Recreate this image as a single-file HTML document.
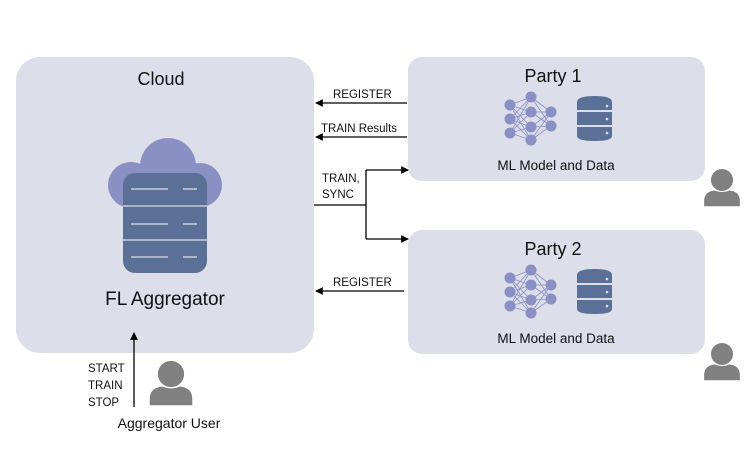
<!DOCTYPE html>
<html><head><style>body{margin:0;background:#fff}svg{display:block}text{font-family:"Liberation Sans",sans-serif}</style></head>
<body>
<svg width="747" height="467" viewBox="0 0 747 467" xmlns="http://www.w3.org/2000/svg">
<defs>
<g id="party">
  <rect x="408" y="57" width="297" height="124" rx="14" fill="#dcdee9"/>
  <g stroke="#8a8fc4" stroke-width="0.8">
    <line x1="510" y1="105" x2="531" y2="97"/><line x1="510" y1="105" x2="531" y2="112"/><line x1="510" y1="105" x2="531" y2="127"/><line x1="510" y1="105" x2="531" y2="140"/>
    <line x1="510" y1="119" x2="531" y2="97"/><line x1="510" y1="119" x2="531" y2="112"/><line x1="510" y1="119" x2="531" y2="127"/><line x1="510" y1="119" x2="531" y2="140"/>
    <line x1="510" y1="133" x2="531" y2="97"/><line x1="510" y1="133" x2="531" y2="112"/><line x1="510" y1="133" x2="531" y2="127"/><line x1="510" y1="133" x2="531" y2="140"/>
    <line x1="531" y1="97" x2="551" y2="112"/><line x1="531" y1="97" x2="551" y2="126"/>
    <line x1="531" y1="112" x2="551" y2="112"/><line x1="531" y1="112" x2="551" y2="126"/>
    <line x1="531" y1="127" x2="551" y2="112"/><line x1="531" y1="127" x2="551" y2="126"/>
    <line x1="531" y1="140" x2="551" y2="112"/><line x1="531" y1="140" x2="551" y2="126"/>
  </g>
  <g fill="#8a8fc4">
    <circle cx="510" cy="105" r="5.5"/><circle cx="510" cy="119" r="5.5"/><circle cx="510" cy="133" r="5.5"/>
    <circle cx="531" cy="97" r="5.5"/><circle cx="531" cy="112" r="5.5"/><circle cx="531" cy="127" r="5.5"/><circle cx="531" cy="140" r="5.5"/>
    <circle cx="551" cy="112" r="5.5"/><circle cx="551" cy="126" r="5.5"/>
  </g>
  <g fill="#5a7096">
    <path d="M577 102 Q577 96 595 96 Q612 96 612 102 L612 110 L577 110 Z"/>
    <rect x="577" y="112" width="35" height="13"/>
    <path d="M577 127 L612 127 L612 136 Q612 141 595 141 Q577 141 577 136 Z"/>
  </g>
  <g fill="#dcdee9"><circle cx="607" cy="106" r="1.3"/><circle cx="607" cy="119" r="1.3"/><circle cx="607" cy="133" r="1.3"/></g>
  <text x="556" y="170" font-size="13.5" text-anchor="middle" fill="#111">ML Model and Data</text>
</g>
<g id="person">
  <circle cx="0" cy="0" r="10.5" fill="#808080"/>
  <path d="M-17 25 L-17 20 Q-17 11 -7 10 Q0 13 7 10 Q17 11 17 20 L17 25 Z" fill="#808080"/>
</g>
<marker id="ah" viewBox="0 0 8 8" refX="7" refY="4" markerWidth="6" markerHeight="6" orient="auto"><path d="M0 0 L8 4 L0 8 Z" fill="#000"/></marker>
</defs>

<rect x="16" y="57" width="298" height="296" rx="24" fill="#dcdee9"/>
<text x="161" y="85" font-size="18" text-anchor="middle" fill="#111">Cloud</text>
<g fill="#8a8fc4">
  <circle cx="168" cy="166" r="28"/>
  <circle cx="131" cy="185" r="23"/>
  <circle cx="200" cy="185" r="22"/>
</g>
<rect x="123" y="173" width="84" height="100" rx="12" fill="#5a7096"/>
<g stroke="#dcdee9" stroke-width="1.3">
  <line x1="123" y1="206" x2="207" y2="206"/><line x1="123" y1="240" x2="207" y2="240"/>
  <line x1="131" y1="189" x2="168" y2="189"/><line x1="183" y1="189" x2="197" y2="189"/>
  <line x1="131" y1="224" x2="168" y2="224"/><line x1="183" y1="224" x2="197" y2="224"/>
  <line x1="131" y1="257" x2="168" y2="257"/><line x1="183" y1="257" x2="197" y2="257"/>
</g>
<text x="165" y="305" font-size="19" text-anchor="middle" fill="#111">FL Aggregator</text>

<use href="#party"/>
<text x="553" y="82" font-size="18" text-anchor="middle" fill="#111">Party 1</text>
<use href="#party" transform="translate(0,173)"/>
<text x="553" y="255" font-size="18" text-anchor="middle" fill="#111">Party 2</text>

<g stroke="#000" stroke-width="1.3" fill="none">
  <line x1="407" y1="103" x2="316" y2="103" marker-end="url(#ah)"/>
  <line x1="407" y1="137" x2="316" y2="137" marker-end="url(#ah)"/>
  <polyline points="314,205 366,205"/>
  <polyline points="366,170 366,239"/>
  <line x1="366" y1="170" x2="408" y2="170" marker-end="url(#ah)"/>
  <line x1="366" y1="239" x2="408" y2="239" marker-end="url(#ah)"/>
  <line x1="404" y1="291" x2="316" y2="291" marker-end="url(#ah)"/>
  <line x1="134" y1="407" x2="134" y2="333" marker-end="url(#ah)"/>
</g>
<g font-size="11.5" fill="#111">
  <text x="333" y="98">REGISTER</text>
  <text x="321" y="132">TRAIN Results</text>
  <text x="322" y="182">TRAIN,</text>
  <text x="322" y="198">SYNC</text>
  <text x="333" y="286">REGISTER</text>
  <text x="88" y="372">START</text>
  <text x="88" y="389">TRAIN</text>
  <text x="88" y="406">STOP</text>
</g>
<text x="169" y="428" font-size="14" text-anchor="middle" fill="#111">Aggregator User</text>

<use href="#person" transform="translate(171,374) scale(1.25)"/>
<use href="#person" transform="translate(722,180) scale(1.05)"/>
<use href="#person" transform="translate(722,354) scale(1.05)"/>
</svg>
</body></html>
